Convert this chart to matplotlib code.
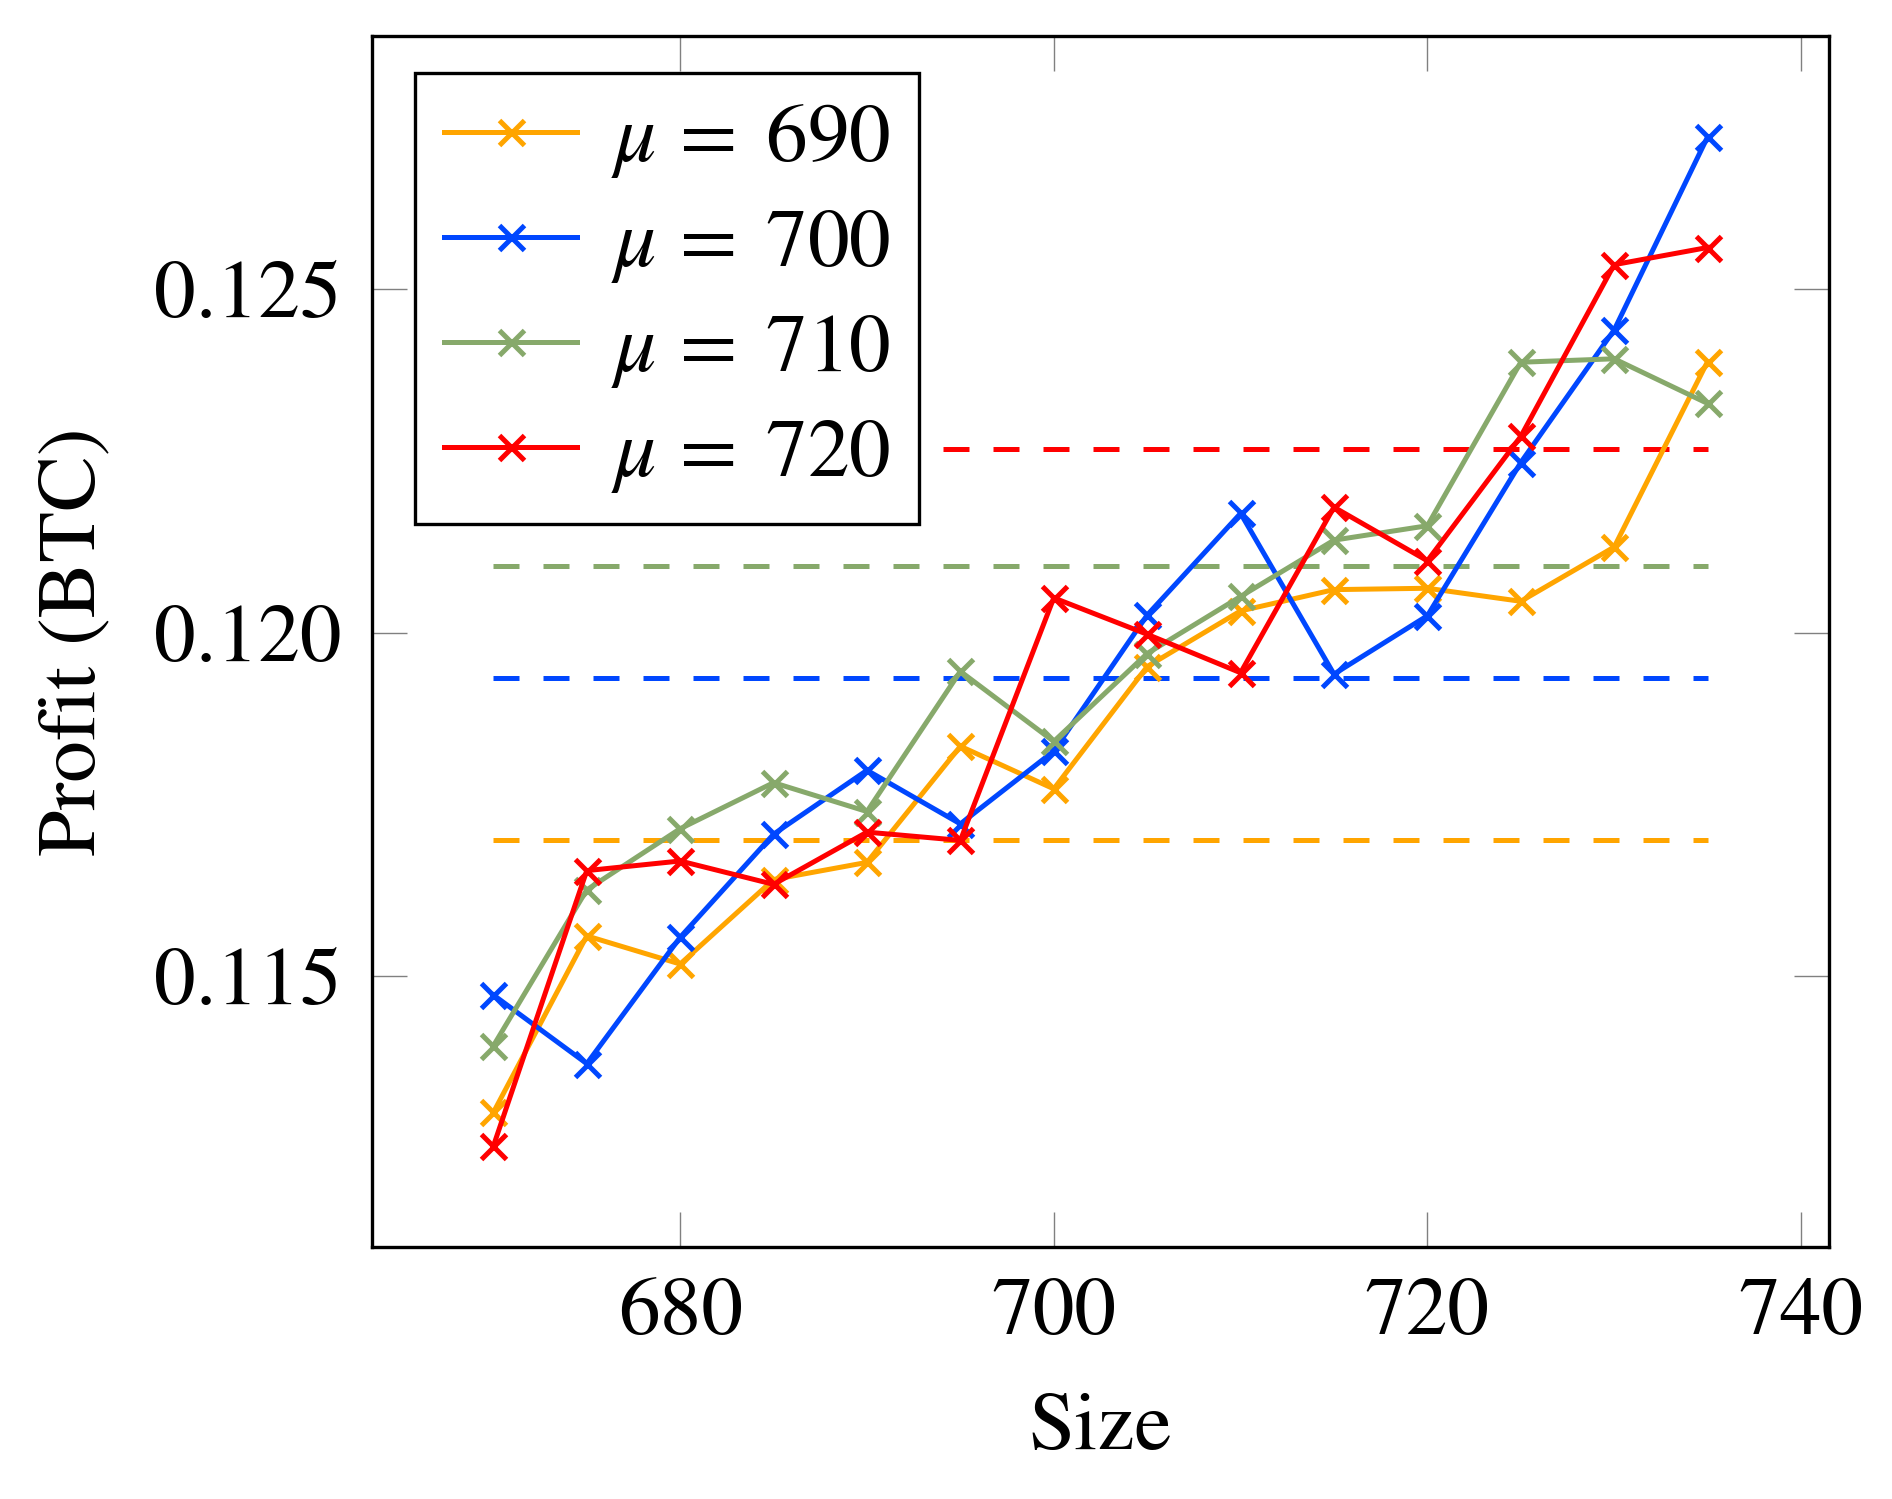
import matplotlib
matplotlib.use("Agg")
import matplotlib.pyplot as plt
from matplotlib.ticker import FormatStrFormatter

# data
sizes = [670, 675, 680, 685, 690, 695, 700, 705, 710, 715, 720, 725, 730, 735]
profit_690 = [0.11302, 0.11559, 0.11518, 0.11641, 0.11666, 0.11835, 0.11773,
              0.11951, 0.12032, 0.12063, 0.12065, 0.12046, 0.12125, 0.12395]
profit_700 = [0.11473, 0.11373, 0.11557, 0.11707, 0.11800, 0.11722, 0.11828,
              0.12026, 0.12174, 0.11940, 0.12025, 0.12248, 0.12441, 0.12722]
profit_710 = [0.11399, 0.11626, 0.11715, 0.11782, 0.11740, 0.11944, 0.11842,
              0.11970, 0.12053, 0.12135, 0.12156, 0.12394, 0.12399, 0.12334]
profit_720 = [0.11253, 0.11654, 0.11668, 0.11634, 0.11710, 0.11698, 0.12051,
              0.11998, 0.11942, 0.12183, 0.12105, 0.12286, 0.12536, 0.12561]
# horizontal reference levels (dashed)
ref_levels = [0.11699, 0.11935, 0.12097, 0.12267]
mu_values = [690, 700, 710, 720]
colors = ["#FFA500", "#0047FF", "#87A96B", "#FF0000"]

plt.rcParams["font.family"] = ["STIXGeneral", "DejaVu Serif"]
plt.rcParams["mathtext.fontset"] = "stix"
plt.rcParams["font.size"] = 60

fig = plt.figure(figsize=(18.92, 14.99), dpi=100)
ax = fig.add_axes([0.1966, 0.1681, 0.7701, 0.8079])

# dashed levels first so the curves sit on top
for lvl, c in zip(ref_levels, colors):
    ax.plot([sizes[0], sizes[-1]], [lvl, lvl], color=c, lw=3.6,
            linestyle=(0, (5.2, 4.8)))

series = [profit_690, profit_700, profit_710, profit_720]
for vals, c, mu in zip(series, colors, mu_values):
    ax.plot(sizes, vals, color=c, lw=3.6, marker="x", markersize=18,
            markeredgewidth=3.6, label=r"$\mu\,=\;%d$" % mu)

ax.margins(x=0.1, y=0.1)
ax.set_xticks([680, 700, 720, 740])
ax.set_yticks([0.115, 0.120, 0.125])
ax.yaxis.set_major_formatter(FormatStrFormatter("%.3f"))
ax.tick_params(direction="in", length=25, width=1.0, color="#808080",
               top=True, right=True, pad=22, labelsize=60)
for sp in ax.spines.values():
    sp.set_linewidth(2.4)

ax.set_xlabel("Size", fontsize=60, labelpad=30)
ax.set_ylabel("Profit (BTC)", fontsize=60, labelpad=30)

leg = ax.legend(loc="upper left", bbox_to_anchor=(0.0295, 0.9694),
                borderaxespad=0, fancybox=False, framealpha=1,
                edgecolor="black", handlelength=1.6, labelspacing=0.33,
                handletextpad=0.4, borderpad=0.35, fontsize=60)
leg.get_frame().set_linewidth(2.4)

fig.savefig("out.png", dpi=100)
